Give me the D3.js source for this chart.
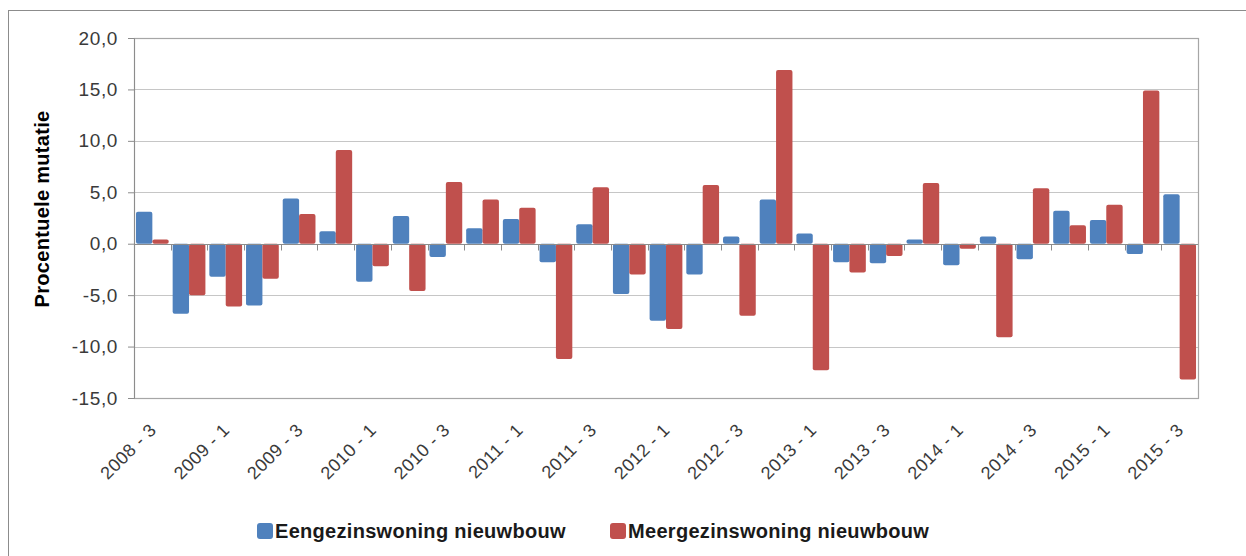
<!DOCTYPE html>
<html>
<head>
<meta charset="utf-8">
<script src="https://cdn.jsdelivr.net/npm/d3@7"></script>
<style>
  body { margin: 0; background: #fff; }
  svg { display: block; font-family: "Liberation Sans", Arial, sans-serif; }
</style>
</head>
<body>
<div id="chart"></div>
<script>

// kwartalen 2008-3 t/m 2015-3
var quarters = ["2008 - 3","2008 - 4",
    "2009 - 1","2009 - 2","2009 - 3","2009 - 4",
    "2010 - 1","2010 - 2","2010 - 3","2010 - 4",
    "2011 - 1","2011 - 2","2011 - 3","2011 - 4",
    "2012 - 1","2012 - 2","2012 - 3","2012 - 4",
    "2013 - 1","2013 - 2","2013 - 3","2013 - 4",
    "2014 - 1","2014 - 2","2014 - 3","2014 - 4",
    "2015 - 1","2015 - 2","2015 - 3"];

var eengezins = [3.1, -6.8, -3.2, -6.0, 4.4, 1.2, -3.7, 2.7, -1.3, 1.5, 2.4, -1.8, 1.9, -4.9, -7.5,
    -3.0, 0.7, 4.3, 1.0, -1.8, -1.9, 0.4, -2.1, 0.7, -1.5, 3.2, 2.3, -1.0, 4.8];

var meergezins = [0.4, -5.0, -6.1, -3.4, 2.9, 9.1, -2.2, -4.6, 6.0, 4.3, 3.5, -11.2, 5.5, -3.0, -8.3,
    5.7, -7.0, 16.9, -12.3, -2.8, -1.2, 5.9, -0.5, -9.1, 5.4, 1.8, 3.8, 14.9, -13.2];

var yTicks = [20, 15, 10, 5, 0, -5, -10, -15];

var seriesNames = ["Eengezinswoning nieuwbouw", "Meergezinswoning nieuwbouw"];
var colors = ["#4F81BD", "#C0504D"];

var W = 1246, H = 556;
var margin = {top: 38, right: 48, bottom: 158, left: 134},
    width = W - margin.left - margin.right,
    height = H - margin.top - margin.bottom;

var svg = d3.select("#chart")
    .append("svg")
    .attr("width", W)
    .attr("height", H);

// buitenrand van de grafiek
svg.append("rect")
    .attr("x", 8.5).attr("y", 10.5)
    .attr("width", W + 20).attr("height", H + 20)
    .attr("fill", "none")
    .attr("stroke", "#8c8c8c");

var g = svg.append("g")
    .attr("transform", "translate(" + margin.left + "," + margin.top + ")");

var xScale = d3.scaleBand()
    .domain(quarters)
    .range([0, width])
    .padding(0);

var xSub = d3.scaleBand()
    .domain([0, 1])
    .range([0, xScale.bandwidth()])
    .paddingOuter(0.12)
    .paddingInner(0);

var yScale = d3.scaleLinear()
    .domain([-15, 20])
    .range([height, 0]);

var nl = d3.formatLocale({decimal: ",", thousands: ".", grouping: [3], currency: ["€", ""], minus: "-"});
var fmt = nl.format(".1f");

// gridlijnen
g.selectAll("line.grid")
    .data(yTicks)
    .enter()
    .append("line")
    .attr("class", "grid")
    .attr("x1", 0).attr("x2", width)
    .attr("y1", function(d){ return Math.round(yScale(d)) + 0.5 })
    .attr("y2", function(d){ return Math.round(yScale(d)) + 0.5 })
    .attr("stroke", "#c6c6c6")
    .attr("stroke-width", 1.2);

// rand plotgebied
g.append("rect")
    .attr("x", 0.5).attr("y", 0.5)
    .attr("width", width).attr("height", height)
    .attr("fill", "none")
    .attr("stroke", "#a6a6a6")
    .attr("stroke-width", 1.2);

// y-as
var yAxis = g.append("g")
    .call(d3.axisLeft(yScale)
        .tickValues(yTicks)
        .tickFormat(fmt)
        .tickSize(6)
        .tickPadding(10)
    );

yAxis.select(".domain").attr("stroke", "#8c8c8c");
yAxis.selectAll(".tick line").attr("stroke", "#8c8c8c");
yAxis.selectAll("text")
    .attr("fill", "#3a3a3a")
    .style("font-size", "19px")
    .style("letter-spacing", "0.6px");

// staven
var data = quarters.map(function(q, i){
    return {q: q, vals: [eengezins[i], meergezins[i]]};
});

var groups = g.selectAll("g.group")
    .data(data)
    .enter()
    .append("g")
    .attr("class", "group")
    .attr("transform", function(d){ return "translate(" + xScale(d.q) + ",0)" });

groups.selectAll("rect")
    .data(function(d){ return d.vals.map(function(v, k){ return {k: k, v: v} }) })
    .enter()
    .append("rect")
    .attr("x", function(d){ return xSub(d.k) })
    .attr("width", xSub.bandwidth())
    .attr("y", function(d){ return yScale(Math.max(0, d.v)) })
    .attr("height", function(d){ return Math.abs(yScale(d.v) - yScale(0)) })
    .attr("rx", 2)
    .attr("fill", function(d){ return colors[d.k] });

// nul-as met streepjes tussen de kwartalen
var zeroY = Math.round(yScale(0)) + 0.5;

g.append("line")
    .attr("x1", 0).attr("x2", width)
    .attr("y1", zeroY).attr("y2", zeroY)
    .attr("stroke", "#8c8c8c")
    .attr("stroke-width", 1.2);

g.selectAll("line.xtick")
    .data(quarters.slice(1))
    .enter()
    .append("line")
    .attr("class", "xtick")
    .attr("x1", function(d){ return Math.round(xScale(d)) + 0.5 })
    .attr("x2", function(d){ return Math.round(xScale(d)) + 0.5 })
    .attr("y1", zeroY).attr("y2", zeroY + 6)
    .attr("stroke", "#8c8c8c");

// labels onder de as, elk tweede kwartaal
g.selectAll("text.xlabel")
    .data(quarters.filter(function(d, i){ return i % 2 === 0 }))
    .enter()
    .append("text")
    .attr("class", "xlabel")
    .attr("text-anchor", "end")
    .attr("fill", "#3a3a3a")
    .style("font-size", "18px")
    .style("letter-spacing", "0.5px")
    .attr("transform", function(d){
        return "translate(" + (xScale(d) + xScale.bandwidth()/2 + 5) + "," + (height + 33) + ") rotate(-45)";
    })
    .text(function(d){ return d });

// y-as titel
svg.append("text")
    .attr("transform", "translate(49,209) rotate(-90)")
    .attr("text-anchor", "middle")
    .style("font-size", "20px")
    .style("font-weight", "bold")
    .style("letter-spacing", "0.3px")
    .attr("fill", "#000")
    .text("Procentuele mutatie");

// legenda
var legend = svg.append("g")
    .attr("transform", "translate(257,523)");

var legendX = [0, 353];

var li = legend.selectAll("g")
    .data(seriesNames)
    .enter()
    .append("g")
    .attr("transform", function(d, i){ return "translate(" + legendX[i] + ",0)" });

li.append("rect")
    .attr("width", 16).attr("height", 16)
    .attr("rx", 3)
    .attr("fill", function(d, i){ return colors[i] });

li.append("text")
    .attr("x", 18)
    .attr("y", 15)
    .style("font-size", "20px")
    .style("font-weight", "bold")
    .style("letter-spacing", "0.3px")
    .attr("fill", "#1a1a1a")
    .text(function(d){ return d });

</script>
</body>
</html>
